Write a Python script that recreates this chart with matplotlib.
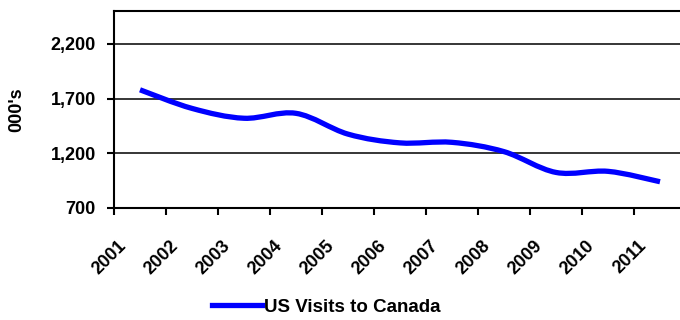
import matplotlib
matplotlib.use('Agg')
import matplotlib.pyplot as plt
import matplotlib.transforms as mtransforms
from matplotlib.path import Path
from matplotlib.patches import PathPatch
from matplotlib.lines import Line2D
from matplotlib.ticker import FuncFormatter

plt.rcParams['font.family'] = ['Liberation Sans', 'DejaVu Sans']
plt.rcParams['font.weight'] = 'bold'

# data
years = ['2001', '2002', '2003', '2004', '2005', '2006',
         '2007', '2008', '2009', '2010', '2011']
us_visits = [1780, 1610, 1520, 1565, 1375, 1295, 1300, 1215, 1025, 1035, 940]
series_name = 'US Visits to Canada'
y_ticks = [700, 1200, 1700, 2200]


def smooth_path(xs, ys):
    # Excel style smoothed line: cubic bezier through every point
    pts = list(zip(xs, ys))
    verts = [pts[0]]
    codes = [Path.MOVETO]
    n = len(pts)
    for i in range(n - 1):
        p0 = pts[i - 1] if i > 0 else pts[i]
        p1 = pts[i]
        p2 = pts[i + 1]
        p3 = pts[i + 2] if i + 2 < n else pts[i + 1]
        c1 = (p1[0] + (p2[0] - p0[0]) / 6, p1[1] + (p2[1] - p0[1]) / 6)
        c2 = (p2[0] - (p3[0] - p1[0]) / 6, p2[1] - (p3[1] - p1[1]) / 6)
        verts += [c1, c2, p2]
        codes += [Path.CURVE4] * 3
    return Path(verts, codes)


fig = plt.figure(figsize=(6.8, 3.2), dpi=100)
ax = fig.add_axes([114 / 680, 1 - 208 / 320, 572 / 680, 197 / 320])

x = list(range(len(years)))
ax.add_patch(PathPatch(smooth_path(x, us_visits), facecolor='none',
                       edgecolor='#0000ff', linewidth=3.8, capstyle='butt',
                       zorder=3))

ax.set_xlim(-0.5, len(years) - 0.5)
ax.set_ylim(700, 2500)

ax.set_yticks(y_ticks)
ax.yaxis.set_major_formatter(FuncFormatter(lambda v, p: f'{int(v):,}'))
ax.grid(axis='y', color='black', linewidth=1.1)
ax.set_axisbelow(True)

# category boundaries get the tick marks, labels sit at the centres
ax.set_xticks([i - 0.5 for i in range(len(years) + 1)], minor=True)
ax.set_xticks(x)
ax.set_xticklabels(years, rotation=45, ha='right', rotation_mode='anchor')
ax.tick_params(axis='x', which='major', length=0, pad=14, labelsize=13)
ax.tick_params(axis='x', which='minor', length=5, width=1.5, direction='out')
ax.tick_params(axis='y', length=5, width=1.5, direction='out', labelsize=13, pad=8)

# nudge the slanted year labels left/down like the original
shift = mtransforms.ScaledTranslation(-22 / 100, -10 / 100, fig.dpi_scale_trans)
for lbl in ax.get_xticklabels():
    lbl.set_transform(lbl.get_transform() + shift)

for s in ax.spines.values():
    s.set_linewidth(1.5)
    s.set_color('black')

ax.set_ylabel("000's", fontsize=13, fontweight='bold', labelpad=18)

handle = Line2D([], [], color='#0000ff', linewidth=3.8)
fig.legend([handle], [series_name], loc='center',
           bbox_to_anchor=(326 / 680, 1 - 307 / 320), frameon=False,
           fontsize=13.5, handlelength=2.7, handletextpad=0.1)

fig.savefig('out.png', dpi=100)
